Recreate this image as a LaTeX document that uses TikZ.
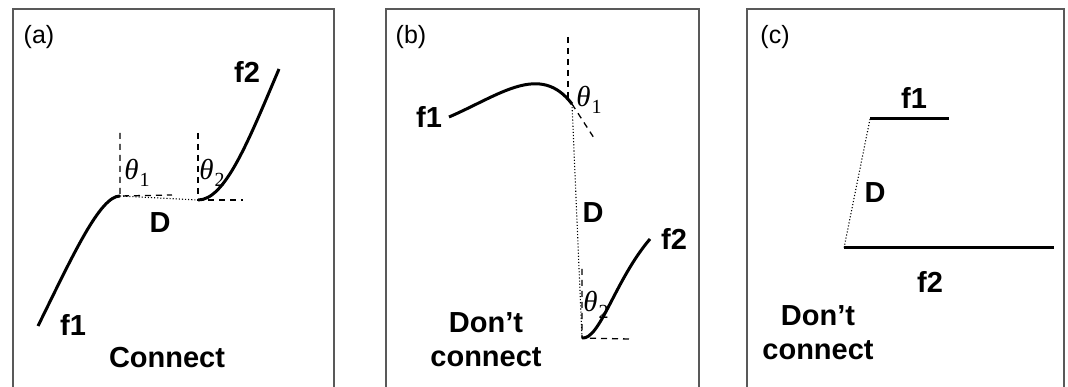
\documentclass[tikz,border=0pt]{standalone}
\usepackage{fontspec}
\setmainfont{Liberation Sans}
\newfontfamily\thfont{Liberation Serif}
\newcommand{\thsub}[1]{{\thfont\itshape θ}\kern1pt\raisebox{-0.24em}{\thfont\fontsize{20}{22}\selectfont #1}}
\begin{document}
\begin{tikzpicture}[x=1pt,y=-1pt,
  lbl/.style={font=\fontsize{29}{34}\selectfont\bfseries, inner sep=0pt},
  tag/.style={font=\fontsize{25}{28}\selectfont, inner sep=0pt},
  ang/.style={font=\fontsize{29}{30}\selectfont, inner sep=0pt},
  frame/.style={draw=black!65, line width=1.2pt},
  curve/.style={line width=3pt},
  dashline/.style={dashed, line width=1.3pt, dash pattern=on 6pt off 5pt},
  dotline/.style={dotted, line width=1.1pt}]
\useasboundingbox (0,0) rectangle (1068,387);
% frames
\draw[frame] (13,387) -- (13,9) -- (334,9) -- (334,387);
\draw[frame] (386,387) -- (386,9) -- (699,9) -- (699,387);
\draw[frame] (747,387) -- (747,9) -- (1064,9) -- (1064,387);

% ---------- panel (a)
\node[tag] (ta) at (39,37) {(a)};
\coordinate (a1s) at (38,326);
\coordinate (a1e) at (120,196);
\coordinate (a2s) at (198,200);
\coordinate (a2e) at (279,69);
\coordinate (a1v) at (120,133);
\coordinate (a1h) at (172,195);
\coordinate (a2v) at (198,133);
\coordinate (a2h) at (243,200);
\draw[dashline] (a1v) -- (a1e) -- (a1h);
\draw[dashline] (a2v) -- (a2s) -- (a2h);
\draw[dotline] (a1e) -- (a2s);
\draw[curve] (a1s) .. controls (73,255) and (100,196) .. (a1e);
\draw[curve] (a2s) .. controls (225,200) and (248,142) .. (a2e);
\node[ang] (th1a) at (137,173) {\thsub{1}};
\node[ang] (th2a) at (212,173) {\thsub{2}};
\node[lbl] (Da) at (160,223) {D};
\node[lbl] (f2a) at (247,72) {f2};
\node[lbl] (f1a) at (73,325) {f1};
\node[lbl] (ca) at (167,358) {Connect};

% ---------- panel (b)
\node[tag] (tb) at (411,37) {(b)};
\coordinate (b1s) at (449,117);
\coordinate (b1e) at (572,104);
\coordinate (b2s) at (582,338);
\coordinate (b2e) at (650,239);
\coordinate (b1v) at (568,37);
\coordinate (b1d) at (594,138);
\coordinate (b2v) at (582,269);
\coordinate (b2h) at (629,339);
\draw[dashline] (b1v) -- (568,100);
\draw[dashline] (b1e) -- (b1d);
\draw[dashline] (b2v) -- (b2s) -- (b2h);
\draw[dotline] (b1e) -- (b2s);
\draw[curve] (b1s) .. controls (500,95) and (540,62) .. (b1e);
\draw[curve] (b2s) .. controls (600,340) and (615,280) .. (b2e);
\node[ang] (th1b) at (589,100) {\thsub{1}};
\node[ang] (th2b) at (596,305) {\thsub{2}};
\node[lbl] (Db) at (593,213) {D};
\node[lbl] (f1b) at (429,117) {f1};
\node[lbl] (f2b) at (674,239) {f2};
\node[lbl, align=center] (cb) at (486,340) {Don’t\\connect};

% ---------- panel (c)
\node[tag] (tc) at (775,37) {(c)};
\coordinate (c1s) at (870,119);
\coordinate (c1e) at (949,119);
\coordinate (c2s) at (844,248);
\coordinate (c2e) at (1054,248);
\draw[curve] (c1s) -- (c1e);
\draw[curve] (c2s) -- (c2e);
\draw[dotline] (c1s) -- (c2s);
\node[lbl] (f1c) at (914,98) {f1};
\node[lbl] (f2c) at (930,282) {f2};
\node[lbl] (Dc) at (875,193) {D};
\node[lbl, align=center] (cc) at (818,333) {Don’t\\connect};
\end{tikzpicture}
\end{document}
